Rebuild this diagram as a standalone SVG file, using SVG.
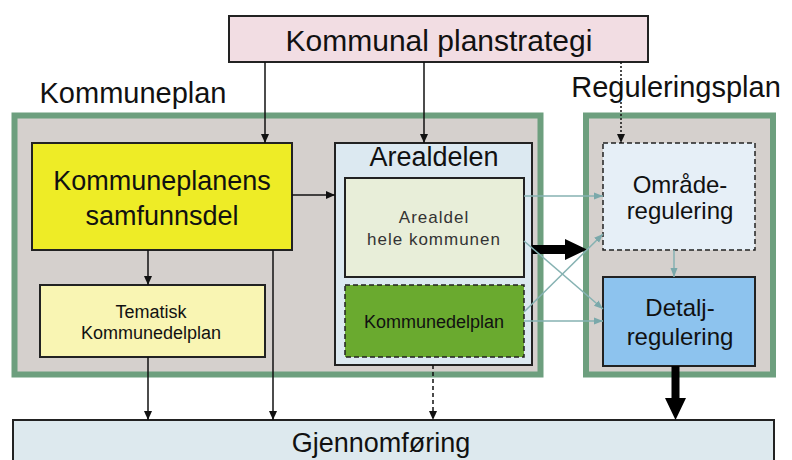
<svg xmlns="http://www.w3.org/2000/svg" width="792" height="460" viewBox="0 0 792 460">
<style>
text{font-family:"Liberation Sans",Arial,sans-serif;fill:#111;text-anchor:middle}
.big{font-size:29px}
.mid{font-size:27px}
.reg{font-size:24px}
.sm{font-size:18px}
.gr{font-size:17px;fill:#333;letter-spacing:1px}
.box{stroke:#222;stroke-width:2}
.frame{stroke:#6d9f7e;stroke-width:6;fill:#d5d0cd}
.ln{stroke:#111;stroke-width:1.5;fill:none}
.tl{stroke:#86b2b2;stroke-width:1.5;fill:none}
</style>
<defs>
<marker id="ah" markerWidth="10" markerHeight="10" refX="9" refY="5" orient="auto" markerUnits="userSpaceOnUse">
<path d="M0,1 L9,5 L0,9 Z" fill="#111"/>
</marker>
<marker id="at" markerWidth="10" markerHeight="10" refX="9" refY="5" orient="auto" markerUnits="userSpaceOnUse">
<path d="M0,1.5 L9,5 L0,8.5 Z" fill="#7aa8aa"/>
</marker>
</defs>
<rect width="792" height="460" fill="#ffffff"/>

<g id="kommuneplan">
<rect class="frame" x="14.5" y="115.5" width="526" height="259"/>
<text class="big" x="133" y="103">Kommuneplan</text>
</g>
<g id="reguleringsplan">
<rect class="frame" x="586" y="115.5" width="187" height="259"/>
<text class="big" x="676" y="97">Reguleringsplan</text>
</g>

<g id="planstrategi">
<rect class="box" x="229" y="16" width="419" height="46" fill="#f2dde3"/>
<text class="big" x="439" y="51" style="font-size:30px">Kommunal planstrategi</text>
</g>

<g id="samfunnsdel">
<rect class="box" x="32" y="143" width="260" height="107" fill="#eeec26"/>
<text class="mid" x="162" y="190">Kommuneplanens</text>
<text class="mid" x="162" y="225">samfunnsdel</text>
</g>

<g id="tematisk">
<rect class="box" x="40" y="285" width="225" height="72" fill="#f9f5b3"/>
<text class="sm" x="151" y="318">Tematisk</text>
<text class="sm" x="151" y="339">Kommunedelplan</text>
</g>

<g id="arealdelen">
<rect class="box" x="335" y="143" width="197" height="222" fill="#dce9f1"/>
<text class="mid" x="434" y="166">Arealdelen</text>
</g>

<g id="arealdel-hele">
<rect class="box" x="345" y="178" width="179" height="99" fill="#e8eed9"/>
<text class="gr" x="434" y="223">Arealdel</text>
<text class="gr" x="434" y="245">hele kommunen</text>
</g>

<g id="kommunedelplan">
<rect x="345" y="285" width="179" height="72" fill="#6aaa2f" stroke="#222" stroke-width="1.5" stroke-dasharray="5,3"/>
<text class="sm" x="434" y="328">Kommunedelplan</text>
</g>

<g id="omraderegulering">
<rect x="603" y="143" width="152" height="107" fill="#e6eff7" stroke="#222" stroke-width="1.5" stroke-dasharray="5,3"/>
<text class="reg" x="680" y="193">Område-</text>
<text class="reg" x="680" y="219">regulering</text>
</g>

<g id="detaljregulering">
<rect class="box" x="603" y="277" width="152" height="89" fill="#8dc3ee"/>
<text class="reg" x="680" y="316">Detalj-</text>
<text class="reg" x="680" y="345">regulering</text>
</g>

<g id="gjennomforing">
<rect class="box" x="13" y="420" width="761" height="60" fill="#dde9ee"/>
<text class="mid" x="381" y="452">Gjennomføring</text>
</g>

<g id="connectors">
<line class="ln" x1="265" y1="62" x2="265" y2="143" marker-end="url(#ah)"/>
<line class="ln" x1="424" y1="62" x2="424" y2="143" stroke="#333" marker-end="url(#ah)"/>
<line class="ln" x1="621" y1="62" x2="621" y2="143" stroke-dasharray="2,2" marker-end="url(#ah)"/>
<line class="ln" x1="292" y1="195" x2="335" y2="195" marker-end="url(#ah)"/>
<line class="ln" x1="148" y1="250" x2="148" y2="285" marker-end="url(#ah)"/>
<line class="ln" x1="273" y1="250" x2="273" y2="420" marker-end="url(#ah)"/>
<line class="ln" x1="148" y1="357" x2="148" y2="420" marker-end="url(#ah)"/>
<line class="ln" x1="433" y1="365" x2="433" y2="420" stroke-width="2.5" stroke-dasharray="4,3" marker-end="url(#ah)"/>
<polygon points="532,245 565,245 565,239 587,249.5 565,260 565,254 532,254" fill="#000"/>
<polygon points="671.5,366 679.5,366 679.5,398 686,398 675.5,420 665,398 671.5,398" fill="#000"/>
<line class="tl" x1="524" y1="196" x2="603" y2="196" marker-end="url(#at)"/>
<line class="tl" x1="524" y1="241" x2="603" y2="309" marker-end="url(#at)"/>
<line class="tl" x1="524" y1="312" x2="603" y2="234" marker-end="url(#at)"/>
<line class="tl" x1="524" y1="321" x2="603" y2="321" marker-end="url(#at)"/>
<line class="tl" x1="674" y1="250" x2="674" y2="277" marker-end="url(#at)"/>
</g>
</svg>
